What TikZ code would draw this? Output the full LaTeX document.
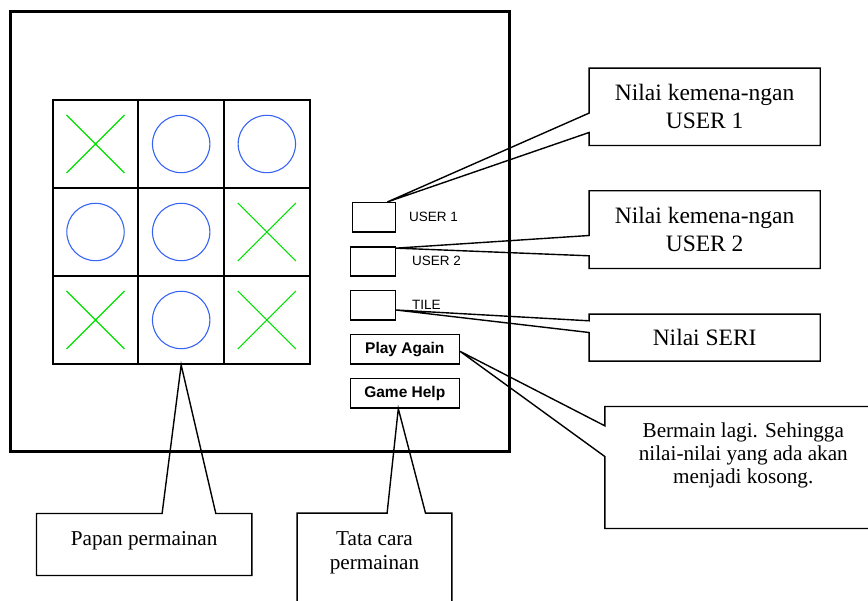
\documentclass[tikz,border=0pt]{standalone}
\usepackage{fontspec}
\setmainfont{Liberation Serif}
\setsansfont{Liberation Sans}
\usepackage{xcolor}
\usetikzlibrary{calc,positioning,shapes}
\definecolor{xgreen}{RGB}{0,225,0}
\definecolor{oblue}{RGB}{55,100,245}
\tikzset{%
	cell/.style     = {draw, rectangle, line width=2pt, minimum width=85.67pt, minimum height=88pt, inner sep=0pt},
	xmark/.style    = {draw=xgreen, line width=1.1pt},
	omark/.style    = {draw=oblue, line width=1.1pt},
	smallbox/.style = {draw, rectangle, line width=1.4pt, minimum width=45pt, minimum height=29.3pt, inner sep=0pt},
	button/.style   = {draw, rectangle, line width=1.4pt, minimum width=109pt, minimum height=29.3pt, inner sep=0pt, font=\sffamily\bfseries\fontsize{15.5}{18}\selectfont},
	userlabel/.style= {anchor=west, inner sep=0pt, font=\sffamily\fontsize{13.5}{16}\selectfont},
	callbox/.style  = {rectangle, inner sep=0pt, align=center, font=\fontsize{23.5}{27.7}\selectfont},
	calltext/.style = {inner sep=0pt, align=center, font=\fontsize{21.2}{22.7}\selectfont},
	callout/.style  = {line width=1.4pt, line join=miter},
}

\begin{document}
\begin{tikzpicture}[x=1pt,y=-1pt]
	\useasboundingbox (0,0) rectangle (868,601);
	\clip (0,0) rectangle (868,601);
	% screen
	\node[draw, rectangle, line width=3pt, minimum width=499pt, minimum height=440pt, inner sep=0pt] (screen) at (259.5,232) {};
	% board
	\foreach \r in {0,1,2}
		\foreach \c in {0,1,2}
			\node[cell] (cell-\r-\c) at ({95.5+85.67*\c},{144+88*\r}) {};
	\foreach \r/\c in {0/0,1/2,2/0,2/2}
		\draw[xmark] ($(cell-\r-\c)+(-29,-29)$) -- ($(cell-\r-\c)+(29,29)$)
			($(cell-\r-\c)+(-29,29)$) -- ($(cell-\r-\c)+(29,-29)$);
	\foreach \r/\c in {0/1,0/2,1/0,1/1,2/1}
		\draw[omark] (cell-\r-\c) circle[radius=28.7];
	% score boxes and buttons
	\node[smallbox, minimum width=43pt] (ub1) at (373.8,217.3) {};
	\node[smallbox] (ub2) at (372.8,261.5) {};
	\node[smallbox] (tie) at (372.8,305.3) {};
	\node[userlabel] (lu1) at (409,217) {USER 1};
	\node[userlabel] (lu2) at (412,261) {USER 2};
	\node[userlabel] (ltie) at (412,305) {TILE};
	\node[button] (again) at (404.8,349.3) {Play Again};
	\node[button] (help) at (404.8,393.3) {Game Help};
	% callouts
	\node[callbox, minimum width=230.7pt, minimum height=77pt] (c1) at (704.65,106.8) {Nilai kemena-ngan\\USER 1};
	\draw[callout] ($(c1.north west)+(0,45)$) |- (c1.north east) |- (c1.south west) -- ($(c1.north west)+(0,64.4)$) -- ($(ub1.north east)+(-8.6,0)$) -- cycle;
	\node[callbox, minimum width=230.7pt, minimum height=77.3pt] (c2) at (704.65,229.65) {Nilai kemena-ngan\\USER 2};
	\draw[callout] ($(c2.north west)+(0,44.7)$) |- (c2.north east) |- (c2.south west) -- ($(c2.north west)+(0,65)$) -- ($(ub2.north east)+(0,2)$) -- cycle;
	\node[callbox, minimum width=230.7pt, minimum height=46.7pt] (c3) at (704.65,337.65) {Nilai SERI};
	\draw[callout] ($(c3.north west)+(0,6.7)$) |- (c3.north east) |- (c3.south west) -- ($(c3.north west)+(0,18.4)$) -- ($(tie.east)+(0,4.7)$) -- cycle;
	\node[callbox, minimum width=277pt, minimum height=121.6pt] (c4) at (743.5,467.5) {};
	\node[calltext, anchor=north] (c4txt) at (743.3,422.8) {Bermain lagi. Sehingga\\nilai-nilai yang ada akan\\menjadi kosong.};
	\draw[callout] ($(c4.north west)+(0,19.3)$) |- (c4.north east) |- (c4.south west) -- ($(c4.north west)+(0,50)$) -- ($(again.east)+(0,2)$) -- cycle;
	\node[callbox, minimum width=215pt, minimum height=61.6pt] (c5) at (144.2,544.5) {};
	\node[calltext, anchor=base] (c5txt) at (144.2,545) {Papan permainan};
	\draw[callout] ($(c5.north west)+(179.3,0)$) -| (c5.south east) -| (c5.north west) -- ($(c5.north west)+(125.6,0)$) -- (cell-2-1.south) -- cycle;
	\node[callbox, minimum width=154.4pt, minimum height=116.7pt] (c6) at (374.5,571.65) {};
	\node[calltext, anchor=north, font=\fontsize{21.2}{23.5}\selectfont] (c6txt) at (374.5,531.5) {Tata cara\\permainan};
	\draw[callout] ($(c6.north west)+(128.4,0)$) -| (c6.south east) -| (c6.north west) -- ($(c6.north west)+(90,0)$) -- ($(help.south)+(-6.5,0)$) -- cycle;
	% \draw[dotted] (c6.north) -- (help.south);
\end{tikzpicture}
\end{document}
